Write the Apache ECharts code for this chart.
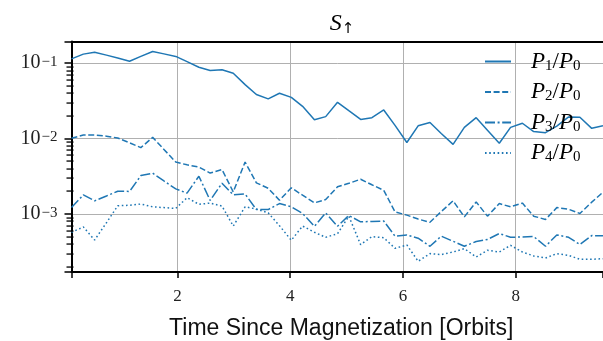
<!DOCTYPE html>
<html><head><meta charset="utf-8">
<script src="https://cdn.jsdelivr.net/npm/echarts@6/dist/echarts.min.js"></script>
<style>html,body{margin:0;padding:0;background:#fff}#c{width:603px;height:341px}</style>
</head><body><div id="c"></div>
<script>
// Time since magnetization [orbits]
const times = [0.12,0.33,0.53,0.74,0.94,1.15,1.35,1.56,1.76,1.97,2.17,2.38,2.58,2.79,2.99,3.2,3.4,3.61,3.81,4.02,4.22,4.43,4.63,4.84,5.04,5.25,5.45,5.66,5.86,6.07,6.27,6.48,6.68,6.89,7.09,7.3,7.5,7.71,7.91,8.12,8.32,8.53,8.73,8.94,9.14,9.35,9.55];
const p1 = [0.114,0.132,0.140,0.128,0.117,0.106,0.123,0.143,0.133,0.123,0.105,0.0885,0.080,0.082,0.0736,0.052,0.0385,0.0337,0.040,0.0353,0.0268,0.0178,0.0196,0.0303,0.0235,0.018,0.019,0.024,0.015,0.0089,0.0148,0.0164,0.0117,0.0084,0.0141,0.019,0.0129,0.0087,0.0141,0.016,0.0124,0.012,0.0147,0.0194,0.0192,0.0137,0.0148];
const p2 = [0.0101,0.0112,0.0112,0.0108,0.0102,0.0088,0.0076,0.0104,0.0072,0.0049,0.0045,0.0042,0.0035,0.0039,0.00197,0.0049,0.0026,0.0022,0.00153,0.00223,0.00178,0.00141,0.00156,0.0023,0.00256,0.0029,0.00245,0.00207,0.00107,0.00097,0.00086,0.00078,0.00108,0.0015,0.00092,0.00145,0.00094,0.00138,0.00125,0.0014,0.00094,0.00085,0.00122,0.00116,0.00102,0.00144,0.00195];
const p3 = [0.00122,0.0018,0.0015,0.00174,0.00201,0.002,0.00324,0.00349,0.00275,0.00216,0.0019,0.00318,0.00152,0.00257,0.0018,0.00185,0.00115,0.00115,0.00138,0.00125,0.00102,0.00069,0.00104,0.00069,0.00096,0.00079,0.0008,0.00081,0.00051,0.00053,0.00048,0.000375,0.00051,0.000437,0.000375,0.000434,0.000462,0.000553,0.000493,0.000498,0.000504,0.000375,0.00053,0.000493,0.000396,0.00052,0.000516];
const p4 = [0.000574,0.000676,0.000454,0.000769,0.00129,0.00131,0.00136,0.00125,0.00122,0.00119,0.00165,0.00135,0.0014,0.00128,0.000695,0.00125,0.00117,0.00104,0.000702,0.00045,0.000695,0.000575,0.000493,0.00055,0.00094,0.000394,0.000504,0.000487,0.000352,0.00039,0.000237,0.0003,0.000291,0.000315,0.000349,0.00027,0.000332,0.000315,0.000386,0.000315,0.000279,0.000262,0.0003,0.000284,0.000252,0.000252,0.000257];
const seriesNames = ['P1/P0','P2/P0','P3/P0','P4/P0'];
const xTickLabels = [2,4,6,8];
const yMinorTicks = [2e-4,3e-4,4e-4,5e-4,6e-4,7e-4,8e-4,9e-4,2e-3,3e-3,4e-3,5e-3,6e-3,7e-3,8e-3,9e-3,2e-2,3e-2,4e-2,5e-2,6e-2,7e-2,8e-2,9e-2];
const yMin = 1.71e-4, yMax = 0.194;
const xMin = times[0], xMax = times[times.length-1];

const C = '#1f77b4';
const serif = 'Liberation Serif';
const dashes = ['solid', [6,2.6], [10,2.6,2,2.6], [1.6,2.6]];
const dataSets = [p1,p2,p3,p4];

const series = dataSets.map((arr,i)=>({
  name: seriesNames[i], type:'line', symbol:'none', showSymbol:false,
  data: arr.map((v,k)=>[times[k], v]),
  lineStyle:{color:C, width:1.5, type:dashes[i]}, itemStyle:{color:C},
  emphasis:{disabled:true}, z:3
}));
// minor ticks of the log y axis, positioned through the axis scale
series.push({
  type:'custom', silent:true, clip:false, z:10,
  data: yMinorTicks.map(v=>[xMin, v]),
  renderItem:(params, api)=>{
    const p = api.coord([api.value(0), api.value(1)]);
    return {type:'rect', shape:{x:p[0]-5, y:Math.round(p[1])-0.6, width:7, height:1.3}, style:{fill:'#000'}};
  }
});

const isPow10 = v => Math.abs(Math.log10(v) - Math.round(Math.log10(v))) < 1e-6;

const chart = echarts.init(document.getElementById('c'), null, {renderer:'canvas'});
chart.setOption({
  animation:false,
  backgroundColor:'#fff',
  title:{
    text:'{s|S}{a|↑}', left:337, top:6, textAlign:'center',
    textStyle:{fontWeight:'normal', rich:{
      s:{fontFamily:serif, fontStyle:'italic', fontWeight:'normal', fontSize:24, lineHeight:26, color:'#000'},
      a:{fontFamily:'DejaVu Sans', fontWeight:'normal', fontSize:15, lineHeight:8, verticalAlign:'bottom', color:'#000'}
    }}
  },
  grid:{left:71.5, right:0, top:41.5, bottom:69, containLabel:false, outerBoundsMode:'none'},
  legend:{
    data: seriesNames, orient:'vertical', left:484, top:50, padding:0, itemWidth:26, itemHeight:14, itemGap:7,
    selectedMode:false, itemStyle:{opacity:0},
    formatter: n => { const m = n.match(/P(\d)\/P(\d)/); return '{g|}{i|P}{s|'+m[1]+'}{n|/}{i|P}{s|'+m[2]+'}'; },
    textStyle:{rich:{
      g:{width:15},
      i:{fontFamily:serif, fontStyle:'italic', fontSize:23, lineHeight:24, color:'#000'},
      s:{fontFamily:serif, fontSize:15, lineHeight:10, verticalAlign:'bottom', color:'#000'},
      n:{fontFamily:serif, fontSize:23, lineHeight:24, color:'#000'}
    }}
  },
  xAxis:[{
    type:'value', min:xMin, max:xMax, splitNumber:5,
    axisLine:{show:true, onZero:false, lineStyle:{color:'#000', width:2}},
    axisTick:{show:true, length:6, lineStyle:{color:'#000', width:1.5}},
    axisLabel:{margin:16, fontFamily:serif, fontSize:17, color:'#222',
      formatter: v => xTickLabels.some(t=>Math.abs(t-v)<1e-6) ? String(Math.round(v)) : ''},
    splitLine:{show:true, lineStyle:{color:'#b0b0b0', width:1}},
    name:'Time Since Magnetization [Orbits]', nameLocation:'middle', nameGap:45,
    nameTextStyle:{fontFamily:'Liberation Sans', fontSize:23, color:'#111', padding:[0,0,0,8]}
  },{
    type:'value', position:'top', min:xMin, max:xMax,
    axisLine:{show:true, onZero:false, lineStyle:{color:'#000', width:2}},
    axisTick:{show:false}, axisLabel:{show:false}, splitLine:{show:false}
  }],
  yAxis:{
    type:'log', logBase:10, min:yMin, max:yMax,
    axisLine:{show:true, onZero:false, lineStyle:{color:'#000', width:2}},
    axisTick:{show:true, length:7, lineStyle:{color:'#000', width:1.5}},
    axisLabel:{margin:14, color:'#222',
      formatter: v => isPow10(v) ? '{b|10}{e|−'+Math.round(-Math.log10(v))+'}' : '',
      rich:{
        b:{fontFamily:serif, fontSize:20, lineHeight:18, color:'#222'},
        e:{fontFamily:serif, fontSize:15, lineHeight:8, verticalAlign:'top', color:'#222', padding:[0,0,0,1]}
      }},
    splitLine:{show:true, lineStyle:{color:'#b0b0b0', width:1}},
    minorTick:{show:false}
  },
  series
});
</script></body></html>
